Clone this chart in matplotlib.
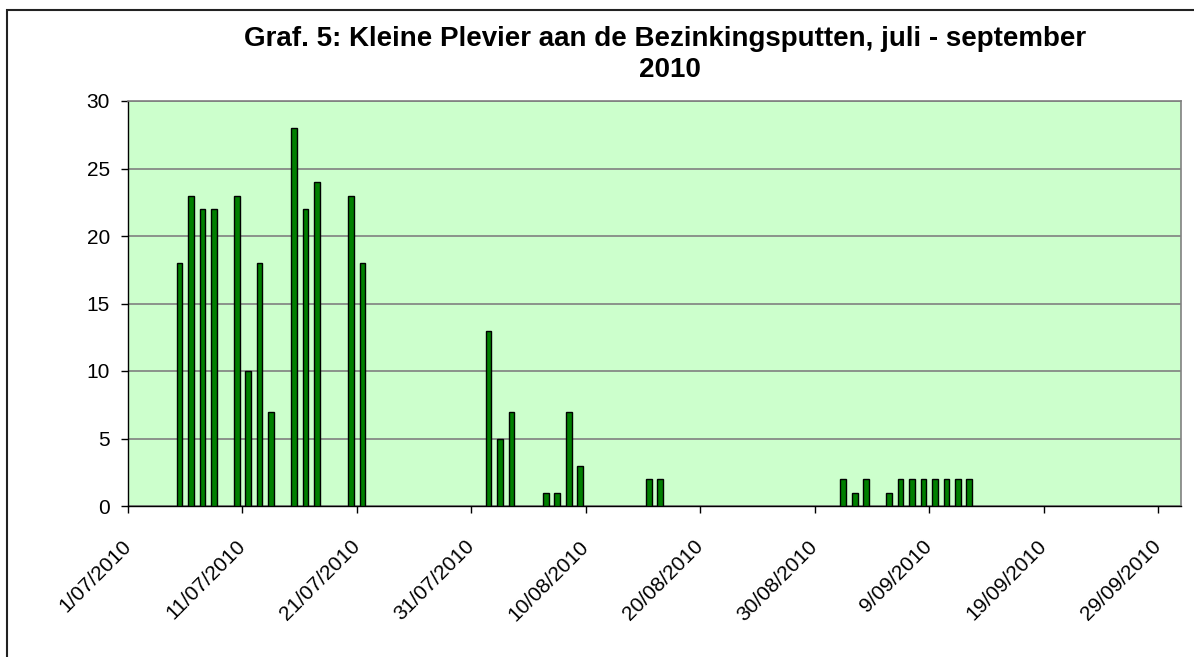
import matplotlib
matplotlib.use("Agg")
import matplotlib.pyplot as plt
import matplotlib.dates as mdates
import matplotlib.patches as patches
import numpy as np
import pandas as pd

# Kleine Plevier counts per day
dates = pd.to_datetime([
    "2010-07-05", "2010-07-06", "2010-07-07", "2010-07-08", "2010-07-10",
    "2010-07-11", "2010-07-12", "2010-07-13", "2010-07-15", "2010-07-16",
    "2010-07-17", "2010-07-20", "2010-07-21",
    "2010-08-01", "2010-08-02", "2010-08-03", "2010-08-06", "2010-08-07",
    "2010-08-08", "2010-08-09", "2010-08-15", "2010-08-16",
    "2010-09-01", "2010-09-02", "2010-09-03", "2010-09-05", "2010-09-06",
    "2010-09-07", "2010-09-08", "2010-09-09", "2010-09-10", "2010-09-11",
    "2010-09-12",
])
counts = [18, 23, 22, 22, 23, 10, 18, 7, 28, 22, 24, 23, 18,
          13, 5, 7, 1, 1, 7, 3, 2, 2,
          2, 1, 2, 1, 2, 2, 2, 2, 2, 2, 2]

tick_dates = pd.date_range("2010-07-01", "2010-09-29", freq="10D")
title_lines = ["Graf. 5: Kleine Plevier aan de Bezinkingsputten, juli - september", "2010"]

plt.rcParams['font.family'] = ['Liberation Sans', 'DejaVu Sans']

W, H = 1194, 657
fig = plt.figure(figsize=(W / 100, H / 100), dpi=100, facecolor='white')

# chart border (cut off at right and bottom like the original)
fig.patches.append(patches.Rectangle((7 / W, -0.05), 1.1, (H - 10) / H + 0.05,
                                     transform=fig.transFigure, fill=False,
                                     edgecolor='#222222', linewidth=1.5))

ax = fig.add_axes([128 / W, (H - 506) / H, (1181 - 128) / W, (506 - 101) / H])
ax.set_facecolor('#CCFFCC')

# centre each bar in its day
x = mdates.date2num(dates) + 0.5
ax.bar(x, counts, width=0.5, color='#008000', edgecolor='black', linewidth=1, zorder=3)

ax.set_xlim(mdates.date2num(pd.Timestamp("2010-07-01")),
            mdates.date2num(pd.Timestamp("2010-10-01")))
ax.set_ylim(0, 30)
ax.set_yticks(np.arange(0, 31, 5))
ax.grid(axis='y', color='#808080', linewidth=1.2, zorder=0)

ax.set_xticks(mdates.date2num(tick_dates))
ax.set_xticklabels([f"{d.day}/{d.month:02d}/{d.year}" for d in tick_dates],
                   rotation=45, ha='right', va='center', rotation_mode='anchor')

ax.tick_params(axis='both', labelsize=15, length=5, width=1, colors='black', direction='out')
ax.tick_params(axis='x', pad=22)
ax.tick_params(axis='y', pad=8)

for side in ['top', 'right']:
    ax.spines[side].set_color('#808080')
    ax.spines[side].set_linewidth(1.2)
for side in ['left', 'bottom']:
    ax.spines[side].set_color('black')
    ax.spines[side].set_linewidth(1)

fig.text(665 / W, (H - 46) / H, title_lines[0], ha='center', va='baseline',
         fontsize=20, fontweight='bold')
fig.text(670 / W, (H - 77) / H, title_lines[1], ha='center', va='baseline',
         fontsize=20, fontweight='bold')

fig.savefig("out.png", dpi=100)
